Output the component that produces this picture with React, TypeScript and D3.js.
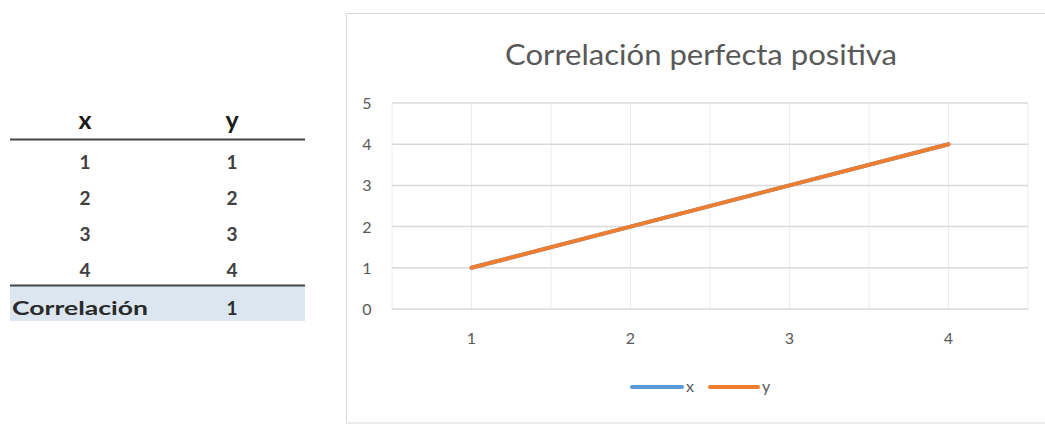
import React from "react";
import * as d3 from "d3";

const categories = ["1", "2", "3", "4"];
const seriesX = [1, 2, 3, 4];
const seriesY = [1, 2, 3, 4];
const yTicks = [0, 1, 2, 3, 4, 5];
const tableRows = [
  ["1", "1"],
  ["2", "2"],
  ["3", "3"],
  ["4", "4"],
];
const correlationLabel = "Correlación";
const correlationValue = "1";
const chartTitle = "Correlación perfecta positiva";
const legendItems = [
  { name: "x", color: "#5B9BD5" },
  { name: "y", color: "#ED7D31" },
];

const FONT = "Lato, 'Open Sans', sans-serif";

export default function App() {
  const x = d3.scaleBand<string>().domain(categories).range([392, 1028]);
  const y = d3.scaleLinear().domain([0, 5]).range([309, 103]);
  const cx = (c: string) => (x(c) as number) + x.bandwidth() / 2;

  const vLines: number[] = [];
  categories.forEach((c) => {
    vLines.push(x(c) as number);
    vLines.push(cx(c));
  });
  vLines.push(x.range()[1]);

  const line = d3
    .line<number>()
    .x((_, i) => cx(categories[i]))
    .y((d) => y(d));

  const rowY = [162, 198, 234, 270];

  return (
    <svg
      width={1045}
      height={427}
      style={{ position: "absolute", left: 0, top: 0, background: "#fff" }}
    >
      {/* Table */}
      <g fontFamily={FONT} fontWeight={700}>
        <text x={85} y={129} textAnchor="middle" fontSize={25} fill="#1a1a1a">x</text>
        <text x={232} y={129} textAnchor="middle" fontSize={25} fill="#1a1a1a">y</text>
        <line x1={10} x2={305} y1={139.5} y2={139.5} stroke="#444" strokeWidth={2} />
        {tableRows.map((r, i) => (
          <g key={i}>
            <text x={85} y={rowY[i] + 7} textAnchor="middle" fontSize={19} fill="#404040">{r[0]}</text>
            <text x={232} y={rowY[i] + 7} textAnchor="middle" fontSize={19} fill="#404040">{r[1]}</text>
          </g>
        ))}
        <rect x={10} y={286} width={295} height={35} fill="#dce6f1" />
        <line x1={10} x2={305} y1={285.5} y2={285.5} stroke="#444" strokeWidth={2} />
        <text x={12} y={315} fontSize={19} fill="#2a2a2a" textLength={136} lengthAdjust="spacingAndGlyphs">{correlationLabel}</text>
        <text x={232} y={315} textAnchor="middle" fontSize={19} fill="#2a2a2a">{correlationValue}</text>
      </g>

      {/* Chart frame */}
      <rect x={346.5} y={13.5} width={720} height={409.5} fill="#fff" stroke="#d9d9d9" strokeWidth={1} />

      {/* Title */}
      <text
        x={701}
        y={65}
        textAnchor="middle"
        fontFamily={FONT}
        fontWeight={400}
        fontSize={29}
        fill="#595959"
        textLength={392}
        lengthAdjust="spacingAndGlyphs"
      >
        {chartTitle}
      </text>

      {/* Gridlines */}
      {vLines.map((v, i) => (
        <line key={"v" + i} x1={v} x2={v} y1={y(5)} y2={y(0)} stroke="#ececec" strokeWidth={1} />
      ))}
      {yTicks.map((t) => (
        <line key={"h" + t} x1={392} x2={1028} y1={y(t)} y2={y(t)} stroke="#d9d9d9" strokeWidth={1.5} />
      ))}

      {/* Y axis labels */}
      {yTicks.map((t) => (
        <text key={"yl" + t} x={367} y={y(t) + 6} textAnchor="middle" fontFamily={FONT} fontSize={16} fill="#595959">
          {t}
        </text>
      ))}

      {/* X axis labels */}
      {categories.map((c) => (
        <text key={"xl" + c} x={cx(c)} y={344} textAnchor="middle" fontFamily={FONT} fontSize={16} fill="#595959">
          {c}
        </text>
      ))}

      {/* Series */}
      <path d={line(seriesX) as string} fill="none" stroke={legendItems[0].color} strokeWidth={4} strokeLinecap="round" />
      <path d={line(seriesY) as string} fill="none" stroke={legendItems[1].color} strokeWidth={4} strokeLinecap="round" />

      {/* Legend */}
      <g fontFamily={FONT} fontSize={16} fill="#595959">
        <line x1={632} x2={682} y1={387} y2={387} stroke={legendItems[0].color} strokeWidth={4} strokeLinecap="round" />
        <text x={686} y={392}>{legendItems[0].name}</text>
        <line x1={710} x2={758} y1={387} y2={387} stroke={legendItems[1].color} strokeWidth={4} strokeLinecap="round" />
        <text x={762} y={392}>{legendItems[1].name}</text>
      </g>
    </svg>
  );
}
